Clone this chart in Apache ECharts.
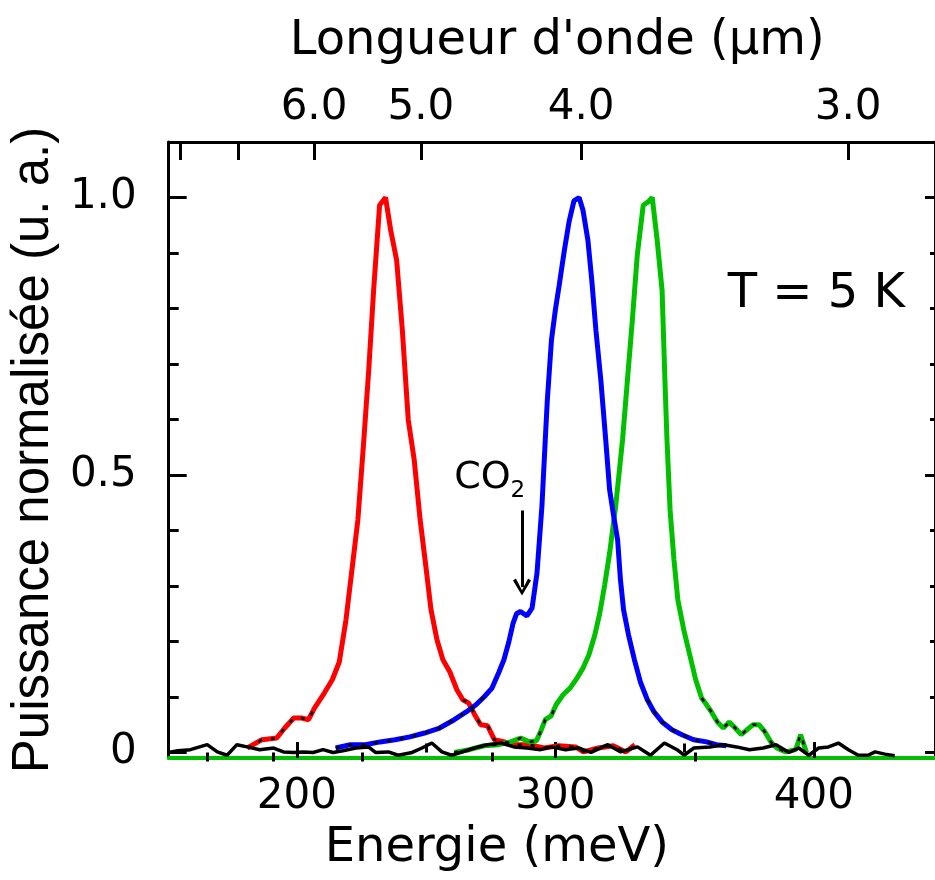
<!DOCTYPE html>
<html><head><meta charset="utf-8">
<script src="https://cdn.jsdelivr.net/npm/echarts@6/dist/echarts.min.js"></script>
<style>html,body{margin:0;padding:0;background:#fff}#c{width:935px;height:880px}</style>
</head><body><div id="c"></div>
<script>
// ---------- data (energy meV, normalized power) ----------
const redData = [[180.8,0.008],[186.5,0.023],[192.2,0.026],[195.3,0.044],[198.8,0.062],[201.8,0.062],[204.5,0.059],[206.8,0.080],[210.6,0.107],[213.7,0.131],[216.4,0.163],[219.0,0.239],[221.3,0.329],[223.6,0.419],[225.9,0.563],[227.8,0.689],[229.7,0.833],[232.0,0.986],[234.3,1.0],[236.3,0.941],[238.6,0.887],[240.8,0.761],[243.1,0.599],[245.4,0.527],[247.7,0.419],[249.6,0.347],[251.9,0.257],[254.2,0.203],[256.5,0.167],[259.2,0.145],[261.9,0.113],[264.2,0.095],[266.5,0.089],[268.8,0.068],[271.1,0.050],[273.8,0.048],[276.4,0.023],[280.3,0.019],[284.1,0.014],[289.8,0.014],[295.6,0.008],[301.3,0.012],[307.8,0.010],[310.9,0.001],[316.6,0.008],[322.4,0.012],[327.3,0.001],[330.8,0.014]];
const blueData = [[215.0,0.008],[220.7,0.014],[226.5,0.014],[232.2,0.019],[238.0,0.023],[243.7,0.028],[249.4,0.035],[255.2,0.044],[260.9,0.059],[265.5,0.073],[269.3,0.086],[272.4,0.100],[275.5,0.116],[278.2,0.145],[280.1,0.167],[282.0,0.199],[283.6,0.232],[285.0,0.250],[286.5,0.254],[289.0,0.246],[291.0,0.260],[292.9,0.323],[294.8,0.443],[296.1,0.563],[296.9,0.635],[298.5,0.743],[300.0,0.797],[301.5,0.842],[303.4,0.902],[305.3,0.956],[307.2,0.994],[309.2,1.0],[310.7,0.977],[312.6,0.923],[314.1,0.851],[315.7,0.761],[317.6,0.671],[319.5,0.563],[321.0,0.473],[322.5,0.428],[324.1,0.383],[325.2,0.311],[326.4,0.257],[328.3,0.212],[330.6,0.167],[332.9,0.127],[335.6,0.095],[338.2,0.073],[341.3,0.055],[345.1,0.041],[349.0,0.032],[353.5,0.023],[358.5,0.019],[362.3,0.014],[366.2,0.012]];
const greenData = [[260.9,0.0],[266.7,0.005],[272.4,0.012],[278.2,0.014],[282.7,0.019],[286.6,0.026],[290.0,0.019],[292.7,0.021],[294.6,0.041],[296.1,0.059],[298.4,0.066],[300.3,0.086],[303.0,0.104],[305.7,0.116],[308.4,0.134],[310.7,0.152],[313.0,0.176],[315.3,0.212],[317.2,0.251],[319.1,0.302],[321.0,0.359],[323.3,0.442],[324.8,0.509],[326.0,0.563],[327.9,0.671],[329.8,0.779],[331.7,0.896],[334.0,0.986],[335.9,0.992],[337.5,1.0],[339.4,0.923],[341.3,0.833],[342.4,0.671],[343.2,0.563],[344.4,0.437],[345.9,0.347],[347.4,0.275],[349.7,0.221],[352.0,0.176],[354.3,0.131],[356.6,0.098],[358.5,0.086],[360.4,0.073],[362.7,0.055],[365.0,0.044],[367.3,0.055],[369.6,0.044],[371.9,0.032],[374.2,0.041],[376.5,0.050],[378.8,0.050],[381.1,0.037],[383.4,0.019],[385.7,0.008],[389.1,0.001],[393.0,0.005],[394.9,0.032],[397.2,0.0]];
const blackData = [[150.4,0.0],[153.9,0.003],[158.8,0.005],[165.3,0.014],[169.2,0.001],[173.0,-0.005],[176.8,0.014],[180.7,0.010],[185.6,0.005],[191.0,0.008],[194.8,0.001],[198.7,0.0],[202.5,0.001],[206.3,0.0],[210.1,0.005],[214.0,0.0],[217.8,0.003],[222.8,0.008],[227.7,0.010],[230.4,0.0],[235.4,0.001],[239.2,-0.005],[244.6,0.0],[248.4,0.008],[252.2,0.017],[256.1,0.001],[259.9,-0.005],[268.7,0.008],[273.7,0.014],[279.0,0.017],[284.0,0.010],[289.0,0.008],[294.3,0.005],[298.5,0.010],[303.9,0.005],[308.9,0.008],[313.8,0.0],[320.3,0.014],[325.3,0.001],[331.8,0.010],[336.8,-0.005],[342.2,0.017],[347.1,0.005],[349.8,-0.005],[353.6,0.008],[359.8,0.010],[365.1,0.014],[370.1,0.010],[375.1,0.005],[380.4,0.008],[385.4,0.014],[390.4,0.0],[394.2,0.008],[398.1,-0.005],[401.9,0.008],[405.7,0.010],[409.5,0.017],[413.4,0.005],[417.2,-0.005],[421.0,-0.005],[423.7,0.001],[427.5,-0.003],[431.3,-0.006]];

// ---------- axes ----------
const X_MIN = 150.4, X_MAX = 446.9;
const Y_MIN = -0.01, Y_MAX = 1.1;
const energyLabels = [200, 300, 400];
const energyMinor = [250, 350];
const lambdaMajor = [8, 7, 6, 5, 4, 3];
const lambdaLabels = [6, 5, 4, 3];
const lambdaMinor = [7.5, 6.5, 5.5, 4.5, 3.5];
const yLabels = [0, 0.5, 1.0];
const yMinor = [0.1, 0.2, 0.3, 0.4, 0.6, 0.7, 0.8, 0.9];
const HC = 1239.84; // meV·µm
const toE = l => HC / l;
const TAIL = 0.1; // level under which the black trace overlays the coloured spectra
const tail = d => d.map(p => (p[1] <= TAIL ? p : [p[0], null]));

const FONT = 'DejaVu Sans';
const FONT_V = 'Liberation Sans';
const K = '#000';
const txt = (s, f) => ({fontSize: s, fontFamily: f || FONT, color: K});

const chart = echarts.init(document.getElementById('c'), null, {renderer: 'canvas'});
const hidden = {show: false};
const overlay = (d) => ({type: 'line', data: tail(d), showSymbol: false, connectNulls: false, silent: true,
  lineStyle: {color: K, width: 2.5, type: [4, 9]}, z: 4});
const option = {
  animation: false,
  backgroundColor: '#fff',
  title: {text: 'T = 5 K', right: 25, top: 266, textStyle: {fontSize: 48, fontWeight: 'normal', fontFamily: FONT, color: K}},
  grid: {left: 160, top: 142, width: 777, height: 616, containLabel: false},
  xAxis: [
    {type: 'value', position: 'bottom', min: X_MIN, max: X_MAX,
     axisLine: {show: true, onZero: false, lineStyle: {color: '#00c000', width: 4}},
     axisTick: {show: true, inside: true, length: 16, customValues: energyLabels, lineStyle: {color: K, width: 3}},
     axisLabel: Object.assign({show: true, customValues: energyLabels, margin: 18}, txt(42)),
     splitLine: hidden,
     name: 'Energie (meV)', nameLocation: 'middle', nameGap: 67,
     nameTextStyle: Object.assign({padding: [0, 110, 0, 0]}, txt(48))},
    {type: 'value', position: 'bottom', min: X_MIN, max: X_MAX, offset: 0,
     axisLine: hidden, axisLabel: hidden, splitLine: hidden,
     axisTick: {show: true, inside: true, length: 9, customValues: energyMinor, lineStyle: {color: K, width: 3}}},
    {type: 'value', position: 'top', min: X_MIN, max: X_MAX, offset: 0,
     axisLine: {show: true, onZero: false, lineStyle: {color: K, width: 3}},
     axisTick: {show: true, inside: true, length: 18, customValues: lambdaMajor.map(toE), lineStyle: {color: K, width: 3}},
     axisLabel: Object.assign({show: true, customValues: lambdaLabels.map(toE), margin: 13,
       formatter: v => (HC / v).toFixed(1)}, txt(42)),
     splitLine: hidden,
     name: "Longueur d'onde (µm)", nameLocation: 'middle', nameGap: 76,
     nameTextStyle: Object.assign({padding: [0, 0, 0, 11]}, txt(48))},
    {type: 'value', position: 'top', min: X_MIN, max: X_MAX, offset: 0,
     axisLine: hidden, axisLabel: hidden, splitLine: hidden,
     axisTick: {show: true, inside: true, length: 9, customValues: lambdaMinor.map(toE), lineStyle: {color: K, width: 3}}}
  ],
  yAxis: [
    {type: 'value', position: 'left', min: Y_MIN, max: Y_MAX, offset: 0,
     axisLine: {show: true, onZero: false, lineStyle: {color: K, width: 3}},
     axisTick: {show: true, inside: true, length: 18, customValues: yLabels, lineStyle: {color: K, width: 3}},
     axisLabel: Object.assign({show: true, customValues: yLabels, margin: 32,
       formatter: v => (v === 0 ? '0' : v.toFixed(1))}, txt(42)),
     splitLine: hidden,
     name: 'Puissance normalisée (u. a.)', nameLocation: 'middle', nameGap: 104, nameRotate: 90,
     nameTextStyle: txt(51, FONT_V)},
    {type: 'value', position: 'left', min: Y_MIN, max: Y_MAX, offset: 0,
     axisLine: hidden, axisLabel: hidden, splitLine: hidden,
     axisTick: {show: true, inside: true, length: 10, customValues: yMinor, lineStyle: {color: K, width: 3}}},
    {type: 'value', position: 'right', min: Y_MIN, max: Y_MAX, offset: 0,
     axisLine: {show: true, onZero: false, lineStyle: {color: K, width: 3}},
     axisLabel: hidden, splitLine: hidden,
     axisTick: {show: true, inside: true, length: 10, customValues: yLabels, lineStyle: {color: K, width: 3}}},
    {type: 'value', position: 'right', min: Y_MIN, max: Y_MAX, offset: 0,
     axisLine: hidden, axisLabel: hidden, splitLine: hidden,
     axisTick: {show: true, inside: true, length: 5, customValues: yMinor, lineStyle: {color: K, width: 3}}}
  ],
  series: [
    {type: 'line', name: 'red', data: redData, showSymbol: false, lineStyle: {color: '#ff0000', width: 5}, z: 3},
    {type: 'line', name: 'green', data: greenData, showSymbol: false, lineStyle: {color: '#00c000', width: 5}, z: 3},
    {type: 'line', name: 'blue', data: blueData, showSymbol: false, lineStyle: {color: '#0000ff', width: 5}, z: 3,
     markPoint: {silent: true, symbol: 'circle', symbolSize: 0,
       data: [{coord: [274.6, 0.495], label: {show: true, position: 'inside', formatter: '{a|CO}{b|2}',
         rich: {a: {fontSize: 38, fontFamily: FONT, color: K}, b: {fontSize: 23, fontFamily: FONT, color: K, padding: [26, 0, 0, 0]}}}}]},
     markLine: {silent: true, animation: false, symbol: ['none', 'path://M5,0 L10,9 L8.4,10.2 L5,3.2 L1.6,10.2 L0,9 Z'], symbolSize: [18, 17],
       lineStyle: {color: K, width: 3, type: 'solid'}, label: {show: false},
       data: [[{coord: [287.1, 0.436]}, {coord: [287.1, 0.298]}]]}},
    overlay(redData), overlay(blueData), overlay(greenData),
    {type: 'line', name: 'black', data: blackData, showSymbol: false, lineStyle: {color: K, width: 3.5}, z: 5}
  ]
};
chart.setOption(option);
</script></body></html>
